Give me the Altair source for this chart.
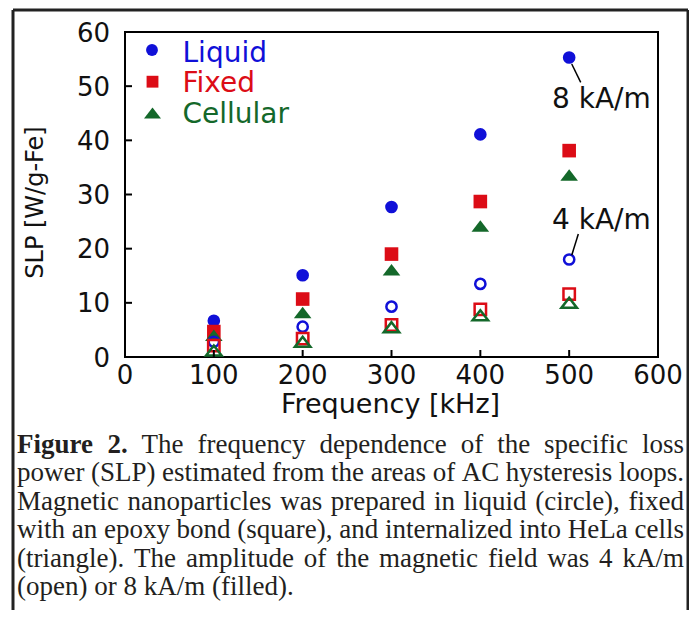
import altair as alt
import pandas as pd

# ---------------- data ----------------
freq_khz = [100, 200, 300, 400, 500]
liquid_8kA = [6.7, 15.1, 27.7, 41.1, 55.3]
fixed_8kA = [4.7, 10.7, 19.0, 28.7, 38.1]
cellular_8kA = [4.0, 8.2, 16.1, 24.2, 33.6]
liquid_4kA = [2.8, 5.6, 9.3, 13.5, 18.0]
fixed_4kA = [2.1, 3.4, 5.9, 8.8, 11.6]
cellular_4kA = [1.2, 2.8, 5.5, 7.7, 10.0]

series_names = ["Liquid", "Fixed", "Cellular"]
series_colors = ["#1010d8", "#dc0c16", "#14682a"]
x_tick_values = [0, 100, 200, 300, 400, 500, 600]
y_tick_values = [0, 10, 20, 30, 40, 50, 60]

field_labels = ["8 kA/m", "4 kA/m"]
field_label_x = [480.7, 480.7]
field_label_y = [45.9, 23.6]
leader_x1 = [502.9, 510.3]
leader_y1 = [54.1, 22.7]
leader_x2 = [513.0, 502.9]
leader_y2 = [50.7, 18.8]

x_title = "Frequency [kHz]"
y_title = "SLP [W/g-Fe]"

caption_lines = [
    [("Figure", True), ("2.", True), ("The", False), ("frequency", False), ("dependence", False),
     ("of", False), ("the", False), ("specific", False), ("loss", False)],
    [(w, False) for w in "power (SLP) estimated from the areas of AC hysteresis loops.".split()],
    [(w, False) for w in "Magnetic nanoparticles was prepared in liquid (circle), fixed".split()],
    [(w, False) for w in "with an epoxy bond (square), and internalized into HeLa cells".split()],
    [(w, False) for w in "(triangle). The amplitude of the magnetic field was 4 kA/m".split()],
    [(w, False) for w in "(open) or 8 kA/m (filled).".split()],
]

# ---------------- layout helpers ----------------
PW, PH = 533, 325          # plot area in px
XMAX, YMAX = 600, 60


def dx(px):
    return px * XMAX / PW


def dy(py):
    return (PH - py) * YMAX / PH


TRI = "M0,-0.65L1,0.65L-1,0.65Z"

xs = alt.Scale(domain=[0, XMAX], nice=False, zero=False)
ys = alt.Scale(domain=[0, YMAX], nice=False, zero=False)
color_scale = alt.Scale(domain=series_names, range=series_colors)
shape_scale = alt.Scale(domain=series_names, range=["circle", "square", TRI])
marker_area = {"Liquid-8": 160, "Fixed-8": 185, "Cellular-8": 310,
               "Liquid-4": 105, "Fixed-4": 130, "Cellular-4": 240}

# ---------------- long table of points ----------------
rows = []
for name, v8 in zip(series_names, [liquid_8kA, fixed_8kA, cellular_8kA]):
    for f, a in zip(freq_khz, v8):
        rows.append(dict(freq=f, slp=a, series=name, field="8", sz=marker_area[name + "-8"]))
for name, v4 in zip(series_names, [liquid_4kA, fixed_4kA, cellular_4kA]):
    for f, b in zip(freq_khz, v4):
        rows.append(dict(freq=f, slp=b, series=name, field="4", sz=marker_area[name + "-4"]))
pts = pd.DataFrame(rows)

enc_common = dict(
    color=alt.Color("series:N", scale=color_scale, legend=None),
    shape=alt.Shape("series:N", scale=shape_scale, legend=None),
    size=alt.Size("sz:Q", scale=None, legend=None),
)

filled = alt.Chart(pts).transform_filter("datum.field == '8'").mark_point(
    filled=True, opacity=1
).encode(
    x=alt.X("freq:Q", scale=xs, axis=None),
    y=alt.Y("slp:Q", scale=ys, axis=None),
    **enc_common,
)

opened = alt.Chart(pts).transform_filter("datum.field == '4'").mark_point(
    filled=False, opacity=1, strokeWidth=2.5
).encode(
    x=alt.X("freq:Q", scale=xs, axis=None),
    y=alt.Y("slp:Q", scale=ys, axis=None),
    **enc_common,
)

# inward ticks and tick labels
xtick_df = pd.DataFrame({"v": x_tick_values})
ytick_df = pd.DataFrame({"v": y_tick_values})
xt = alt.Chart(xtick_df).mark_rule(color="black", strokeWidth=2).encode(
    x=alt.X("v:Q", scale=xs, axis=None), y=alt.value(PH), y2=alt.value(PH - 7))
yt = alt.Chart(ytick_df).mark_rule(color="black", strokeWidth=2).encode(
    y=alt.Y("v:Q", scale=ys, axis=None), x=alt.value(0), x2=alt.value(7))
xl = alt.Chart(xtick_df).mark_text(
    align="center", baseline="alphabetic", font="DejaVu Sans", fontSize=26, color="#111"
).encode(x=alt.X("v:Q", scale=xs, axis=None), y=alt.value(PH + 27), text=alt.Text("v:Q", format="d"))
yl = alt.Chart(ytick_df).mark_text(
    align="right", baseline="alphabetic", font="DejaVu Sans", fontSize=26, color="#111", dy=9.5
).encode(y=alt.Y("v:Q", scale=ys, axis=None), x=alt.value(-15), text=alt.Text("v:Q", format="d"))

# annotations
ann = pd.DataFrame({"label": field_labels, "x": field_label_x, "y": field_label_y,
                    "x1": leader_x1, "y1": leader_y1, "x2": leader_x2, "y2": leader_y2})
leaders = alt.Chart(ann).mark_rule(color="black", strokeWidth=1.5).encode(
    x=alt.X("x1:Q", scale=xs, axis=None), y=alt.Y("y1:Q", scale=ys, axis=None),
    x2="x2:Q", y2="y2:Q")
ann_text = alt.Chart(ann).mark_text(align="left", baseline="alphabetic", font="DejaVu Sans",
                                    fontSize=28, color="#111").encode(
    x=alt.X("x:Q", scale=xs, axis=None), y=alt.Y("y:Q", scale=ys, axis=None), text="label:N")

# legend (manual)
leg = pd.DataFrame({
    "series": series_names,
    "sz": [140, 140, 289],
    "mx": [dx(27), dx(27.5), dx(27.5)],
    "my": [dy(18), dy(49.7), dy(81)],
    "tx": [dx(57.5)] * 3,
    "ty": [dy(29.7), dy(60), dy(91)],
})
leg_pts = alt.Chart(leg).mark_point(filled=True, opacity=1).encode(
    x=alt.X("mx:Q", scale=xs, axis=None), y=alt.Y("my:Q", scale=ys, axis=None), **enc_common)
leg_txt = alt.Chart(leg).mark_text(align="left", baseline="alphabetic", font="DejaVu Sans",
                                   fontSize=28).encode(
    x=alt.X("tx:Q", scale=xs, axis=None), y=alt.Y("ty:Q", scale=ys, axis=None),
    text="series:N", color=alt.Color("series:N", scale=color_scale, legend=None))

# axis titles
xtitle = alt.Chart(pd.DataFrame({"t": [x_title]})).mark_text(
    align="center", baseline="alphabetic", font="DejaVu Sans", fontSize=27, color="#111"
).encode(x=alt.value(PW / 2 - 1), y=alt.value(381), text="t:N")
ytitle = alt.Chart(pd.DataFrame({"t": [y_title]})).mark_text(
    align="center", baseline="alphabetic", font="DejaVu Sans", fontSize=24, color="#111", angle=270
).encode(x=alt.value(-82), y=alt.value(170.5), text="t:N")

# caption, justified word by word
TIMES = {" ": 250, "(": 333, ")": 333, ",": 250, "-": 333, ".": 250, "/": 278,
         "A": 722, "B": 667, "C": 667, "D": 722, "E": 611, "F": 556, "G": 722, "H": 722,
         "I": 333, "J": 389, "K": 722, "L": 611, "M": 889, "N": 722, "O": 722, "P": 556,
         "Q": 722, "R": 667, "S": 556, "T": 611, "U": 722, "V": 722, "W": 944, "X": 722,
         "Y": 722, "Z": 611,
         "a": 444, "b": 500, "c": 444, "d": 500, "e": 444, "f": 333, "g": 500, "h": 500,
         "i": 278, "j": 278, "k": 500, "l": 278, "m": 778, "n": 500, "o": 500, "p": 500,
         "q": 500, "r": 333, "s": 389, "t": 278, "u": 500, "v": 500, "w": 722, "x": 500,
         "y": 500, "z": 444}
TIMES_B = {"F": 611, "i": 278, "g": 500, "u": 556, "r": 444, "e": 444, ".": 250}
CAP_FS = 27
CAP_LEFT, CAP_RIGHT = 17 - 125, 684 - 125
CAP_BASE0, CAP_STEP = 453 - 32, 28.4


def word_w(w, bold):
    tot = 0
    for c in w:
        if bold:
            tot += TIMES_B.get(c, TIMES.get(c, 500))
        else:
            tot += TIMES.get(c, 500)
    return tot / 1000 * CAP_FS


cap_rows = []
for i, line in enumerate(caption_lines):
    widths = [word_w(w, b) for w, b in line]
    if i < len(caption_lines) - 1:
        gap = (CAP_RIGHT - CAP_LEFT - sum(widths)) / (len(line) - 1)
    else:
        gap = 0.25 * CAP_FS
    x = CAP_LEFT
    for (w, b), ww in zip(line, widths):
        cap_rows.append(dict(word=w, bold=b, x=dx(x), y=dy(CAP_BASE0 + i * CAP_STEP)))
        x += ww + gap
cap = pd.DataFrame(cap_rows)
cap_reg = alt.Chart(cap).transform_filter("!datum.bold").mark_text(
    align="left", baseline="alphabetic", font="Liberation Serif", fontSize=CAP_FS, color="#231f20"
).encode(x=alt.X("x:Q", scale=xs, axis=None), y=alt.Y("y:Q", scale=ys, axis=None), text="word:N")
cap_bold = alt.Chart(cap).transform_filter("datum.bold").mark_text(
    align="left", baseline="alphabetic", font="Liberation Serif", fontSize=CAP_FS,
    fontWeight="bold", color="#231f20"
).encode(x=alt.X("x:Q", scale=xs, axis=None), y=alt.Y("y:Q", scale=ys, axis=None), text="word:N")

# outer box (left, top, right)
one = pd.DataFrame({"a": [0]})
box_l = alt.Chart(one).mark_rule(color="#222", strokeWidth=3).encode(
    x=alt.value(13 - 125), y=alt.value(10 - 32), y2=alt.value(620 - 32))
box_t = alt.Chart(one).mark_rule(color="#222", strokeWidth=3).encode(
    x=alt.value(13 - 125), x2=alt.value(688 - 125), y=alt.value(10 - 32))
box_r = alt.Chart(one).mark_rule(color="#222", strokeWidth=3).encode(
    x=alt.value(688 - 125), y=alt.value(10 - 32), y2=alt.value(620 - 32))

chart = alt.layer(
    filled, opened, xt, yt, xl, yl, leaders, ann_text, leg_pts, leg_txt, xtitle, ytitle,
    cap_reg, cap_bold, box_l, box_t, box_r
).properties(
    width=PW, height=PH,
    padding={"left": 117, "top": 24, "right": 31, "bottom": 253},
    autosize=alt.AutoSizeParams(type="none"),
    background="white",
).configure_view(
    stroke="black", strokeWidth=2
)

chart.save("out.html", embed_options={"renderer": "svg", "actions": False})
